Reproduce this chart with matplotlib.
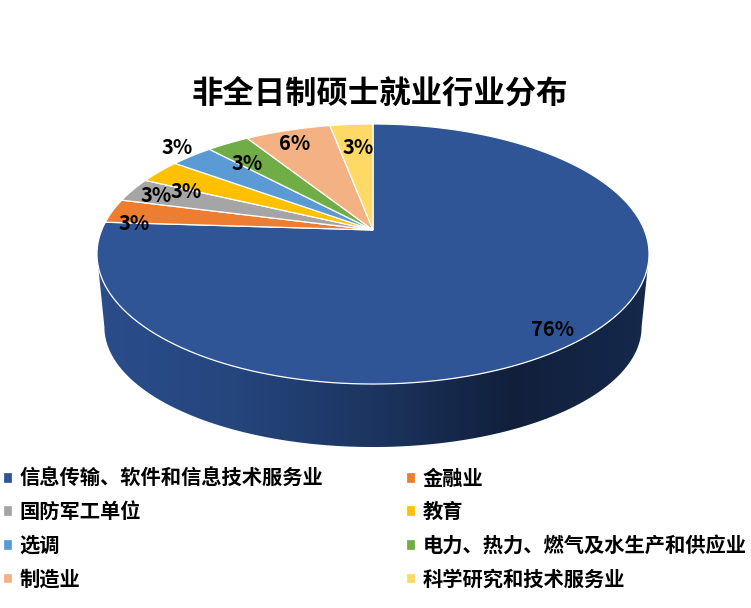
import numpy as np
import matplotlib
matplotlib.use('Agg')
import matplotlib.pyplot as plt
from matplotlib.colors import LinearSegmentedColormap
from matplotlib.patches import Polygon

plt.rcParams['font.family'] = ['Noto Sans CJK SC', 'DejaVu Sans']

TITLE = '非全日制硕士就业行业分布'
categories = ['信息传输、软件和信息技术服务业', '金融业', '国防军工单位', '教育',
              '选调', '电力、热力、燃气及水生产和供应业', '制造业', '科学研究和技术服务业']
shares = [76, 3, 3, 3, 3, 3, 6, 3]
colors = ['#2F5597', '#ED7D31', '#A5A5A5', '#FFC000',
          '#5B9BD5', '#70AD47', '#F4B183', '#FFD966']
# label centres in pixels, the chart places them by hand too
label_pos = [(553, 329), (134, 224), (156, 196), (186, 192),
             (177, 147), (247, 163), (295, 143), (358, 148)]

# pie tilt: apex pixel, perspective and scale of the unit circle
APEX_X, APEX_Y = 373, 230
K = 0.1846
A, B = 271.3, 125.6


def project(theta_deg, r=1.0):
    t = np.radians(theta_deg)
    u, v = r * np.cos(t), r * np.sin(t)
    w = 1 + K * v
    return APEX_X + A * u / w, APEX_Y - B * v / w


fig = plt.figure(figsize=(7.51, 6.08), dpi=100)
ax = fig.add_axes([0, 0, 1, 1])

# let the library work out the wedge angles
wedges, _ = ax.pie(shares, startangle=90, counterclock=False, colors=colors)
angles = [(w.theta1, w.theta2) for w in wedges]
for w in wedges:
    w.remove()

# side wall, lower half of the rim and of a smaller, lower ellipse
rim_t = np.linspace(180 + np.degrees(np.arcsin(K)), 360 - np.degrees(np.arcsin(K)), 200)
rim_x, rim_y = project(rim_t)
low_x = APEX_X + (rim_x - APEX_X) * 0.973
low_y = 327 + (rim_y - 254) * 0.923
wall = Polygon(np.r_[np.c_[rim_x, rim_y], np.c_[low_x, low_y][::-1]],
               closed=True, fc='none', ec='none')
ax.add_patch(wall)
wall_cmap = LinearSegmentedColormap.from_list(
    'wall', [(0, '#2A4D8B'), (0.25, '#25457D'), (0.5, '#1C3560'),
             (0.75, '#111F3B'), (1, '#15294C')])
im = ax.imshow(np.linspace(0, 1, 256).reshape(1, -1), cmap=wall_cmap, aspect='auto',
               extent=(97, 651, 450, 250), zorder=1)
im.set_clip_path(wall)

# top surface
tops = []
for (t1, t2), c in zip(angles, colors):
    xs, ys = project(np.linspace(t1, t2, 150))
    pts = np.r_[[[APEX_X, APEX_Y]], np.c_[xs, ys]]
    p = Polygon(pts, closed=True, fc=c, ec='white', lw=0.9, zorder=2, label=None)
    ax.add_patch(p)
    tops.append(p)

for (x, y), s in zip(label_pos, shares):
    ax.text(x, y, '%d%%' % s, ha='center', va='center', fontsize=14.5,
            fontweight='bold', color='black', zorder=3)

ax.text(380, 95, TITLE, ha='center', va='center', fontsize=22.6, fontweight='bold')

# legend fills by column, the chart reads by row
order = [0, 2, 4, 6, 1, 3, 5, 7]
ax.legend([tops[i] for i in order], [categories[i] for i in order], ncols=2,
          loc='upper left', bbox_to_anchor=(0.004, 0.231), bbox_transform=ax.transAxes,
          frameon=False, borderpad=0, borderaxespad=0,
          prop={'size': 14.6, 'weight': 'bold'}, labelspacing=0.62,
          handlelength=0.45, handleheight=0.45, handletextpad=0.35, columnspacing=4.1)

ax.set_aspect('auto')
ax.set_xlim(0, 751)
ax.set_ylim(608, 0)
ax.axis('off')
fig.savefig('out.png', dpi=100, facecolor='white')
